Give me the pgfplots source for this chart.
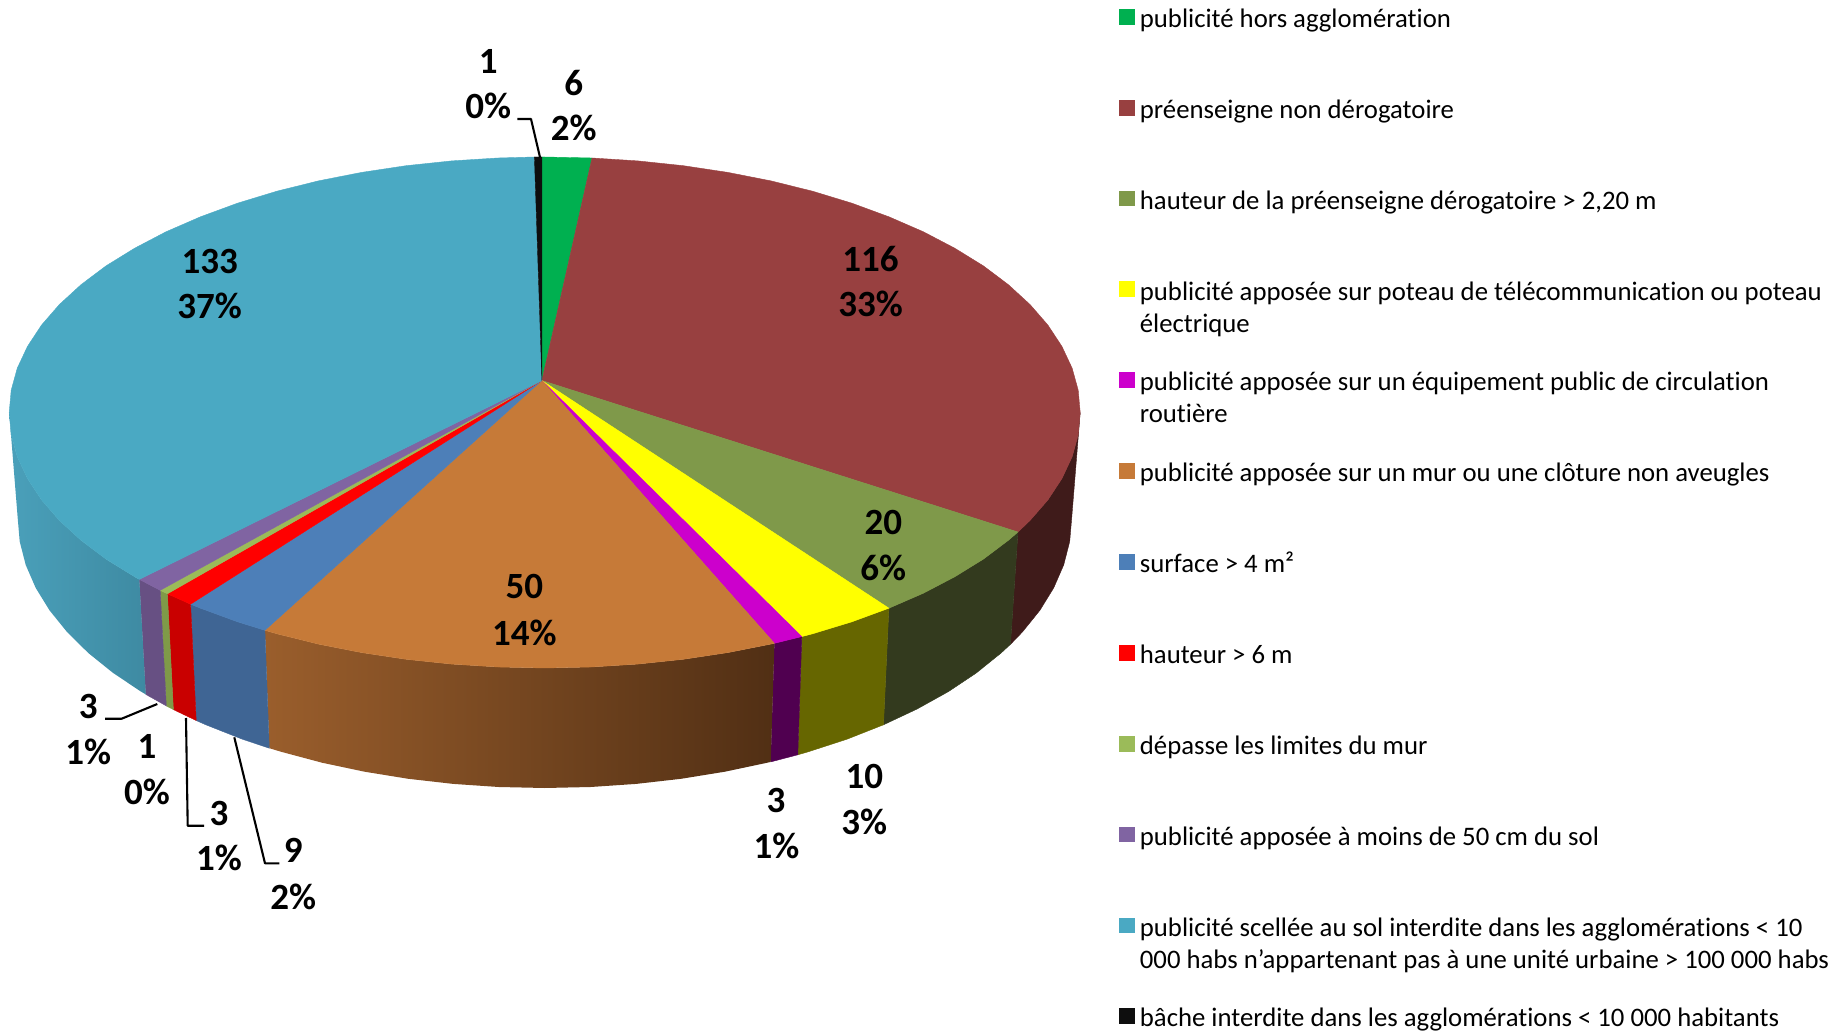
\documentclass[border=0pt]{standalone}
\usepackage{pgfplots}
\pgfplotsset{compat=1.18}
\usepackage{fontspec}
\setmainfont{Carlito}[Ligatures=NoCommon]

\definecolor{cGreen}{HTML}{00B050}
\definecolor{cBrick}{HTML}{984040}
\definecolor{cOlive}{HTML}{7F994A}
\definecolor{cYellow}{HTML}{FFFF00}
\definecolor{cMagenta}{HTML}{CC00CC}
\definecolor{cOrange}{HTML}{C67A38}
\definecolor{cBlue}{HTML}{4D7FB8}
\definecolor{cRed}{HTML}{FF0000}
\definecolor{cLime}{HTML}{9BBB59}
\definecolor{cPurple}{HTML}{8064A2}
\definecolor{cTeal}{HTML}{4AA9C3}
\definecolor{cBlack}{HTML}{0E0E0E}
% side walls
\definecolor{sBrick}{HTML}{3F1B1A}
\definecolor{sOlive}{HTML}{333A1E}
\definecolor{sYellow}{HTML}{666600}
\definecolor{sMagenta}{HTML}{500050}
\definecolor{sOrangeL}{HTML}{9A5E2C}
\definecolor{sOrangeR}{HTML}{512F14}
\definecolor{sBlue}{HTML}{3F6594}
\definecolor{sRed}{HTML}{C90000}
\definecolor{sLime}{HTML}{7F9A48}
\definecolor{sPurple}{HTML}{675083}
\definecolor{sTealL}{HTML}{4AA0BA}
\definecolor{sTealR}{HTML}{3E8AA2}

\tikzset{
    slice/.style={fill=#1, draw=#1, line width=0.2pt},
    lead/.style={black, line width=1.05pt, line join=round},
    swatch/.style={only marks, mark=square*, mark size=3.7pt, mark options={fill=#1, draw=#1, line width=0.05pt}},
    val/.style={font=\fontsize{18.5}{22}\selectfont\bfseries, inner sep=0pt, anchor=center},
    leg/.style={font=\fontsize{13.37}{16}\selectfont, inner sep=0pt, anchor=base west},
}

\begin{document}
\begin{tikzpicture}
\begin{axis}[
    scale only axis, width=923.5pt, height=515.5pt,
    xmin=0, xmax=1847, ymin=0, ymax=1031, y dir=reverse,
    hide axis, clip=false,
]
\path (axis cs:0,0) rectangle (axis cs:1847,1031);

% side walls, drawn first
\addplot[slice=sBrick] coordinates {(1080.2,412.5)(1078.2,434.8)(1072.1,456.9)(1061.9,478.6)(1047.9,499.9)(1030.0,520.5)(1018.0,532.0)(1010.5,644.3)(1022.3,632.1)(1039.9,610.3)(1053.7,587.9)(1063.7,564.9)(1069.7,541.5)(1071.7,518)(1080.2,412.5)};
\addplot[slice=sOlive] coordinates {(1018.0,532.0)(1008.4,540.3)(983.4,559.1)(954.9,576.7)(923.4,593.2)(888.9,608.2)(883.5,724.8)(917.3,708.9)(948.4,691.6)(976.4,672.9)(1001.1,653.0)(1010.5,644.3)(1018.0,532.0)};
\addplot[slice=sYellow] coordinates {(888.9,608.2)(851.9,621.8)(812.5,633.8)(801.8,636.6)(797.8,754.8)(808.2,751.8)(847.0,739.2)(883.5,724.8)(888.9,608.2)};
\addplot[slice=sMagenta] coordinates {(801.8,636.6)(774.4,643.3)(770.7,761.9)(797.8,754.8)(801.8,636.6)};
\addplot[left color=sOrangeL, right color=sOrangeR, draw=none] coordinates {(774.4,643.3)(771.0,644.1)(727.8,652.6)(683.3,659.3)(637.7,664.1)(591.4,667.0)(544.7,668.0)(498.0,667.0)(451.7,664.1)(406.1,659.3)(361.6,652.6)(318.4,644.1)(276.9,633.8)(264.9,630.3)(269.3,748.2)(281.2,751.8)(322.0,762.7)(364.5,771.7)(408.3,778.8)(453.2,783.9)(498.7,787.0)(544.7,788.0)(590.7,787.0)(636.2,783.9)(681.1,778.8)(724.9,771.7)(767.4,762.7)(770.7,761.9)(774.4,643.3)};
\addplot[slice=sBlue] coordinates {(264.9,630.3)(237.5,621.8)(200.5,608.2)(190.6,604.2)(196.2,720.5)(205.9,724.8)(242.4,739.2)(269.3,748.2)(264.9,630.3)};
\addplot[slice=sRed] coordinates {(190.6,604.2)(167.4,593.8)(173.4,709.6)(196.2,720.5)(190.6,604.2)};
\addplot[slice=sLime] coordinates {(167.4,593.8)(160.2,590.3)(166.3,705.9)(173.4,709.6)(167.4,593.8)};
\addplot[slice=sPurple] coordinates {(160.2,590.3)(139.3,579.4)(145.8,694.4)(166.3,705.9)(160.2,590.3)};
\addplot[left color=sTealL, right color=sTealR, draw=none] coordinates {(139.3,579.4)(134.5,576.7)(106.0,559.1)(81.0,540.3)(59.4,520.5)(41.5,499.9)(27.5,478.6)(17.3,456.9)(11.2,434.8)(9.2,412.5)(17.7,518)(19.7,541.5)(25.7,564.9)(35.7,587.9)(49.5,610.3)(67.1,632.1)(88.3,653.0)(113.0,672.9)(141.0,691.6)(145.8,694.4)(139.3,579.4)};

% top face, clockwise from the black slice
\addplot[slice=cGreen] coordinates {(541.9,380.5)(541.9,157.0)(544.7,157.0)(592.0,158.0)(541.9,380.5)};
\addplot[slice=cBrick] coordinates {(541.9,380.5)(592.0,158.0)(637.7,160.9)(683.3,165.7)(727.8,172.4)(771.0,180.9)(812.5,191.2)(851.9,203.2)(888.9,216.8)(923.4,231.8)(954.9,248.3)(983.4,265.9)(1008.4,284.7)(1030.0,304.5)(1047.9,325.1)(1061.9,346.4)(1072.1,368.1)(1078.2,390.2)(1080.2,412.5)(1078.2,434.8)(1072.1,456.9)(1061.9,478.6)(1047.9,499.9)(1030.0,520.5)(1018.0,532.0)(541.9,380.5)};
\addplot[slice=cOlive] coordinates {(541.9,380.5)(1018.0,532.0)(1008.4,540.3)(983.4,559.1)(954.9,576.7)(923.4,593.2)(888.9,608.2)(541.9,380.5)};
\addplot[slice=cYellow] coordinates {(541.9,380.5)(888.9,608.2)(851.9,621.8)(812.5,633.8)(801.8,636.6)(541.9,380.5)};
\addplot[slice=cMagenta] coordinates {(541.9,380.5)(801.8,636.6)(774.4,643.3)(541.9,380.5)};
\addplot[slice=cOrange] coordinates {(541.9,380.5)(774.4,643.3)(771.0,644.1)(727.8,652.6)(683.3,659.3)(637.7,664.1)(591.4,667.0)(544.7,668.0)(498.0,667.0)(451.7,664.1)(406.1,659.3)(361.6,652.6)(318.4,644.1)(276.9,633.8)(264.9,630.3)(541.9,380.5)};
\addplot[slice=cBlue] coordinates {(541.9,380.5)(264.9,630.3)(237.5,621.8)(200.5,608.2)(190.6,604.2)(541.9,380.5)};
\addplot[slice=cRed] coordinates {(541.9,380.5)(190.6,604.2)(167.4,593.8)(541.9,380.5)};
\addplot[slice=cLime] coordinates {(541.9,380.5)(167.4,593.8)(160.2,590.3)(541.9,380.5)};
\addplot[slice=cPurple] coordinates {(541.9,380.5)(160.2,590.3)(139.3,579.4)(541.9,380.5)};
\addplot[slice=cTeal] coordinates {(541.9,380.5)(139.3,579.4)(134.5,576.7)(106.0,559.1)(81.0,540.3)(59.4,520.5)(41.5,499.9)(27.5,478.6)(17.3,456.9)(11.2,434.8)(9.2,412.5)(11.2,390.2)(17.3,368.1)(27.5,346.4)(41.5,325.1)(59.4,304.5)(81.0,284.7)(106.0,265.9)(134.5,248.3)(166.0,231.8)(200.5,216.8)(237.5,203.2)(276.9,191.2)(318.4,180.9)(361.6,172.4)(406.1,165.7)(451.7,160.9)(498.0,158.0)(534.4,157.0)(541.9,380.5)};
\addplot[slice=cBlack] coordinates {(541.9,380.5)(534.4,157.0)(541.9,157.0)(541.9,380.5)};

% leader lines
\addplot[lead] coordinates {(517.3,119)(531,119)(540,157.3)};
\addplot[lead] coordinates {(105,718.7)(121.7,718.7)(157.3,704)};
\addplot[lead] coordinates {(186,718)(187.7,825.7)(204,825.7)};
\addplot[lead] coordinates {(234.3,737.3)(265,863.3)(279.3,863.3)};

% value labels
\node[val] at (axis cs:573.7,82.7) {6};
\node[val] at (axis cs:573.7,128.3) {2\%};
\node[val] at (axis cs:488.3,61) {1};
\node[val] at (axis cs:488.3,106) {0\%};
\node[val] at (axis cs:209.7,261.5) {133};
\node[val] at (axis cs:209.7,306.3) {37\%};
\node[val] at (axis cs:870.6,259) {116};
\node[val] at (axis cs:870.6,304) {33\%};
\node[val] at (axis cs:883.3,522.7) {20};
\node[val] at (axis cs:883.3,568.3) {6\%};
\node[val] at (axis cs:524.3,586.7) {50};
\node[val] at (axis cs:524.3,632.6) {14\%};
\node[val] at (axis cs:864.3,776) {10};
\node[val] at (axis cs:864.3,821.7) {3\%};
\node[val] at (axis cs:776,800) {3};
\node[val] at (axis cs:776.4,846) {1\%};
\node[val] at (axis cs:88.3,706.7) {3};
\node[val] at (axis cs:88.3,752.3) {1\%};
\node[val] at (axis cs:147,746) {1};
\node[val] at (axis cs:147,792.3) {0\%};
\node[val] at (axis cs:219,813.3) {3};
\node[val] at (axis cs:219,858.3) {1\%};
\node[val] at (axis cs:293.3,850) {9};
\node[val] at (axis cs:293.3,896.7) {2\%};

% legend
\addplot[swatch=cGreen] coordinates {(1126.5,16.3)};
\addplot[swatch=cBrick] coordinates {(1126.5,107.2)};
\addplot[swatch=cOlive] coordinates {(1126.5,198)};
\addplot[swatch=cYellow] coordinates {(1126.5,288.9)};
\addplot[swatch=cMagenta] coordinates {(1126.5,379.8)};
\addplot[swatch=cOrange] coordinates {(1126.5,470.7)};
\addplot[swatch=cBlue] coordinates {(1126.5,561.5)};
\addplot[swatch=cRed] coordinates {(1126.5,652.4)};
\addplot[swatch=cLime] coordinates {(1126.5,743.3)};
\addplot[swatch=cPurple] coordinates {(1126.5,834.1)};
\addplot[swatch=cTeal] coordinates {(1126.5,925)};
\addplot[swatch=cBlack] coordinates {(1126.5,1015.9)};

\node[leg] at (axis cs:1139.5,27.5) {publicité hors agglomération};
\node[leg] at (axis cs:1139.5,118.4) {préenseigne non dérogatoire};
\node[leg] at (axis cs:1139.5,209.2) {hauteur de la préenseigne dérogatoire > 2,20 m};
\node[leg] at (axis cs:1139.5,300.1) {publicité apposée sur poteau de télécommunication ou poteau};
\node[leg] at (axis cs:1139.5,332.1) {électrique};
\node[leg] at (axis cs:1139.5,391) {publicité apposée sur un équipement public de circulation};
\node[leg] at (axis cs:1139.5,423) {routière};
\node[leg] at (axis cs:1139.5,481.9) {publicité apposée sur un mur ou une clôture non aveugles};
\node[leg] at (axis cs:1139.5,572.7) {surface > 4 m²};
\node[leg] at (axis cs:1139.5,663.6) {hauteur > 6 m};
\node[leg] at (axis cs:1139.5,754.5) {dépasse les limites du mur};
\node[leg] at (axis cs:1139.5,845.3) {publicité apposée à moins de 50 cm du sol};
\node[leg] at (axis cs:1139.5,936.2) {publicité scellée au sol interdite dans les agglomérations < 10};
\node[leg] at (axis cs:1139.5,968.2) {000 habs n\char39 appartenant pas à une unité urbaine > 100 000 habs};
\node[leg] at (axis cs:1139.5,1026.4) {bâche interdite dans les agglomérations < 10 000 habitants};
\end{axis}
\end{tikzpicture}
\end{document}
